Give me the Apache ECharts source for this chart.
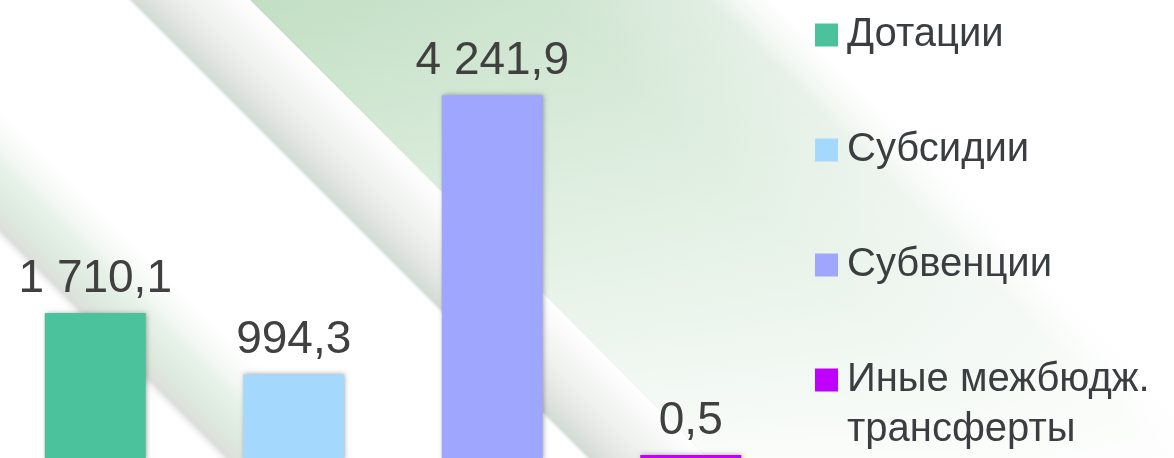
<!DOCTYPE html>
<html>
<head>
<meta charset="utf-8">
<script src="https://cdn.jsdelivr.net/npm/echarts@6/dist/echarts.min.js"></script>
<style>
  html, body { margin: 0; padding: 0; background: #fff; }
  #chart { width: 1174px; height: 458px; }
</style>
</head>
<body>
<div id="chart"></div>
<script>
const categories = ['Дотации', 'Субсидии', 'Субвенции', 'Иные межбюдж.\nтрансферты']
const values = [1710.1, 994.3, 4241.9, 0.5]
const colors = ['#4cc29c', '#a5d8fd', '#9ea7fd', '#bf00ff']

const myChart = echarts.init(document.getElementById('chart'))

// 1 710,1 style numbers
const fmt = (v) => {
  const parts = Number(v).toFixed(1).split('.')
  return parts[0].replace(/\B(?=(\d{3})+(?!\d))/g, ' ') + ',' + parts[1]
}

// diagonal background bands (x-intercepts at y=0, 45 degrees)
const band = (c1, c2, stops) => {
  const H = 520
  return {
    type: 'polygon',
    silent: true,
    shape: { points: [[c1, 0], [c2, 0], [c2 + H, H], [c1 + H, H]] },
    style: {
      fill: new echarts.graphic.LinearGradient(
        c1, 0, (c1 + c2) / 2, -(c2 - c1) / 2,
        stops.map(([offset, color]) => ({ offset, color })), true)
    }
  }
}

const bgElements = [
  band(-245, -90, [
    [0, 'rgba(255,255,255,0)'], [0.1, '#dcdfdc'], [0.25, '#dde9de'],
    [0.5, '#e6f1e7'], [1, 'rgba(255,255,255,0)']
  ]),
  band(125, 250, [
    [0, 'rgba(255,255,255,0)'], [0.06, '#d2dbd4'], [0.2, '#dfe3e0'],
    [0.5, '#eef0ee'], [0.8, '#f8f9f8'], [1, '#ffffff']
  ]),
  band(250, 790, [
    [0, '#c2dfc4'], [0.55, '#cee5d0'], [0.85, '#e2eee3'], [1, 'rgba(255,255,255,0)']
  ]),
  {
    type: 'polygon',
    silent: true,
    shape: { points: [[250, 0], [790, 0], [1310, 520], [770, 520]] },
    style: {
      fill: new echarts.graphic.LinearGradient(0, 0, 0, 458, [
        { offset: 0, color: 'rgba(255,255,255,0)' },
        { offset: 0.45, color: 'rgba(255,255,255,0.45)' },
        { offset: 1, color: 'rgba(255,255,255,0.92)' }
      ], true)
    }
  }
]

const series = categories.map((name, i) => ({
  name,
  type: 'bar',
  stack: 'all',
  barWidth: 101,
  barMinHeight: i === 3 ? 5 : 0,
  data: values.map((v, j) => (j === i ? v : '-')),
  itemStyle: {
    color: colors[i],
    shadowColor: 'rgba(0, 0, 0, 0.35)',
    shadowBlur: 5,
    shadowOffsetX: 1
  },
  label: {
    show: true,
    position: 'top',
    distance: 11,
    color: '#404040',
    fontFamily: 'Liberation Sans',
    fontSize: 46,
    formatter: (p) => fmt(p.value)
  }
}))

const legendText = {
  color: '#3b3e41',
  fontFamily: 'Liberation Sans',
  fontSize: 40,
  lineHeight: 50,
  padding: [0, 0, 0, 4]
}

const option = {
  backgroundColor: '#ffffff',
  animation: false,
  graphic: { elements: bgElements },
  grid: { left: -4, right: 384, top: 30, bottom: -2, outerBoundsMode: 'none' },
  xAxis: {
    type: 'category',
    data: categories,
    show: false
  },
  yAxis: {
    type: 'value',
    min: 0,
    max: 5000,
    show: false
  },
  legend: [
    {
      orient: 'vertical',
      left: 815,
      top: 10,
      padding: 0,
      itemGap: 65,
      itemWidth: 23,
      itemHeight: 23,
      icon: 'rect',
      data: categories.slice(0, 3),
      textStyle: legendText
    },
    {
      orient: 'vertical',
      left: 815,
      top: 305,
      padding: 0,
      itemWidth: 23,
      itemHeight: 23,
      icon: 'rect',
      data: categories.slice(3),
      // blank first line keeps the icon beside the first text line
      formatter: (name) => ' \n' + name,
      textStyle: legendText
    }
  ],
  series
}

myChart.setOption(option)
</script>
</body>
</html>
